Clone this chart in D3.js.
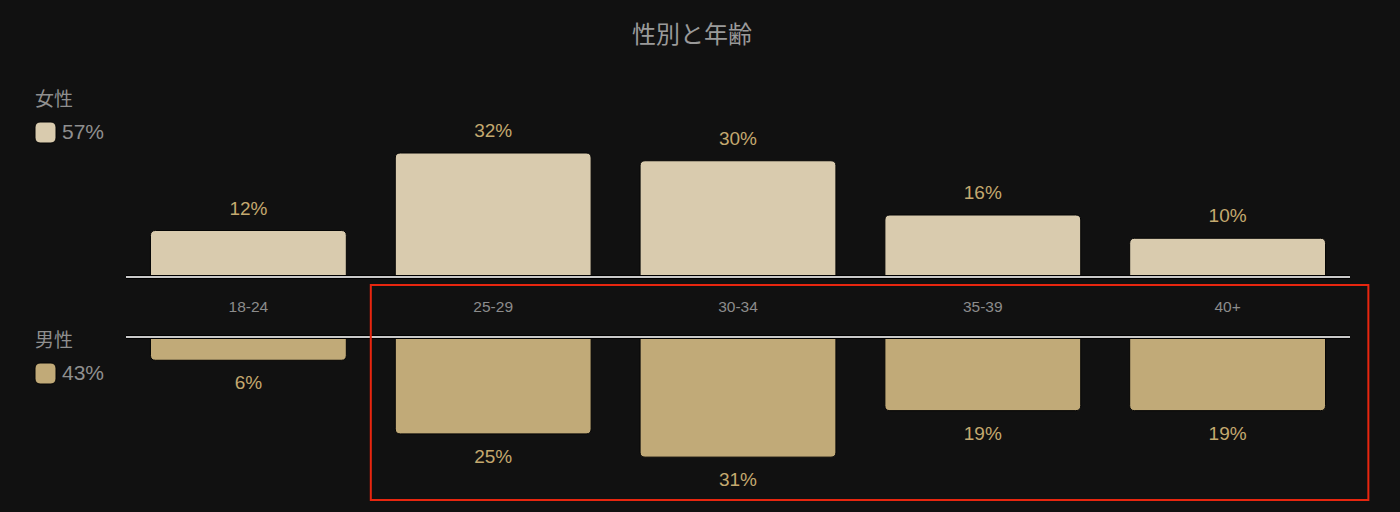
<!DOCTYPE html>
<html>
<head>
<meta charset="utf-8">
<script src="https://cdn.jsdelivr.net/npm/d3@7"></script>
<style>
  html, body { margin: 0; padding: 0; background: #111111; }
  svg { display: block; font-family: "Liberation Sans", Arial, "Noto Sans CJK JP", sans-serif; }
</style>
</head>
<body>
<svg id="chart"></svg>
<script>
const title = "性別と年齢";
const categories = ["18-24", "25-29", "30-34", "35-39", "40+"];
const femaleValues = [12, 32, 30, 16, 10];
const maleValues = [6, 25, 31, 19, 19];
const genders = ["女性", "男性"];
const genderTotals = [57, 43];
const highlighted = ["25-29", "30-34", "35-39", "40+"];

const colors = { female: "#d9cbae", male: "#c1aa78", label: "#c4a96f" };

const width = 1400, height = 512;
const svg = d3.select("#chart").attr("width", width).attr("height", height);

// two baselines, labels sit between them
const topBase = 277, bottomBase = 337;

const x = d3.scaleBand()
  .domain(categories)
  .range([126, 1350])
  .paddingInner(0.2)
  .paddingOuter(0.1);

const h = d3.scaleLinear()
  .domain([0, d3.max(femaleValues.concat(maleValues))])
  .range([0, 124]);

// path for a bar rounded only on its outer side
const roundedBar = (x0, w, y0, len, dir, r) => {
  const y1 = y0 + dir * len;
  r = Math.min(r, len);
  const p = d3.path();
  p.moveTo(x0, y0);
  p.lineTo(x0, y1 - dir * r);
  p.quadraticCurveTo(x0, y1, x0 + r, y1);
  p.lineTo(x0 + w - r, y1);
  p.quadraticCurveTo(x0 + w, y1, x0 + w, y1 - dir * r);
  p.lineTo(x0 + w, y0);
  p.closePath();
  return p.toString();
};

// title
svg.append("text")
  .attr("x", 692)
  .attr("y", 43)
  .attr("text-anchor", "middle")
  .attr("fill", "#9a9a9a")
  .style("font-size", "24px")
  .text(title);

// female bars
svg.append("g")
  .selectAll("path")
  .data(femaleValues)
  .join("path")
  .attr("d", (d, i) => roundedBar(x(categories[i]), x.bandwidth(), topBase, h(d), -1, 5))
  .attr("fill", colors.female)
  .attr("stroke", "#050505")
  .attr("stroke-width", 1);

svg.append("g")
  .selectAll("text")
  .data(femaleValues)
  .join("text")
  .attr("x", (d, i) => x(categories[i]) + x.bandwidth() / 2)
  .attr("y", (d) => topBase - h(d) - 16)
  .attr("text-anchor", "middle")
  .attr("fill", colors.label)
  .style("font-size", "19px")
  .style("font-weight", "500")
  .text((d) => d + "%");

// male bars
svg.append("g")
  .selectAll("path")
  .data(maleValues)
  .join("path")
  .attr("d", (d, i) => roundedBar(x(categories[i]), x.bandwidth(), bottomBase, h(d), 1, 5))
  .attr("fill", colors.male)
  .attr("stroke", "#050505")
  .attr("stroke-width", 1);

svg.append("g")
  .selectAll("text")
  .data(maleValues)
  .join("text")
  .attr("x", (d, i) => x(categories[i]) + x.bandwidth() / 2)
  .attr("y", (d) => bottomBase + h(d) + 29)
  .attr("text-anchor", "middle")
  .attr("fill", colors.label)
  .style("font-size", "19px")
  .style("font-weight", "500")
  .text((d) => d + "%");

// baselines
[topBase, bottomBase].forEach((yy) => {
  const [r0, r1] = x.range();
  svg.append("line")
    .attr("x1", r0).attr("x2", r1).attr("y1", yy).attr("y2", yy)
    .attr("stroke", "#000").attr("stroke-width", 4);
  svg.append("line")
    .attr("x1", r0).attr("x2", r1).attr("y1", yy).attr("y2", yy)
    .attr("stroke", "#c8c8c8").attr("stroke-width", 2);
});

// category labels
svg.append("g")
  .selectAll("text")
  .data(categories)
  .join("text")
  .attr("x", (d) => x(d) + x.bandwidth() / 2)
  .attr("y", 312)
  .attr("text-anchor", "middle")
  .attr("fill", "#8c8c8c")
  .style("font-size", "15.5px")
  .text((d) => d);

// legend on the left
const legendY = [topBase - 177, bottomBase + 4];
const legendColors = [colors.female, colors.male];
genders.forEach((g, i) => {
  const gy = legendY[i];
  svg.append("text")
    .attr("x", 35).attr("y", gy + 6)
    .attr("fill", "#8f8f8f")
    .style("font-size", "19px")
    .text(g);
  svg.append("rect")
    .attr("x", 35).attr("y", gy + 22)
    .attr("width", 21).attr("height", 21)
    .attr("rx", 5)
    .attr("fill", legendColors[i])
    .attr("stroke", "#050505");
  svg.append("text")
    .attr("x", 62).attr("y", gy + 39)
    .attr("fill", "#8f8f8f")
    .style("font-size", "21px")
    .text(genderTotals[i] + "%");
});

// highlight box around the selected age groups
const first = highlighted[0];
const pad = x.step() * x.paddingInner() / 2;
const boxLeft = x(first) - pad;
const boxRight = x.range()[1] + x.step() * x.paddingOuter() * 0.75;
svg.append("rect")
  .attr("x", boxLeft)
  .attr("y", topBase + 8)
  .attr("width", boxRight - boxLeft)
  .attr("height", 215)
  .attr("fill", "none")
  .attr("stroke", "#e8260f")
  .attr("stroke-width", 2);
</script>
</body>
</html>
